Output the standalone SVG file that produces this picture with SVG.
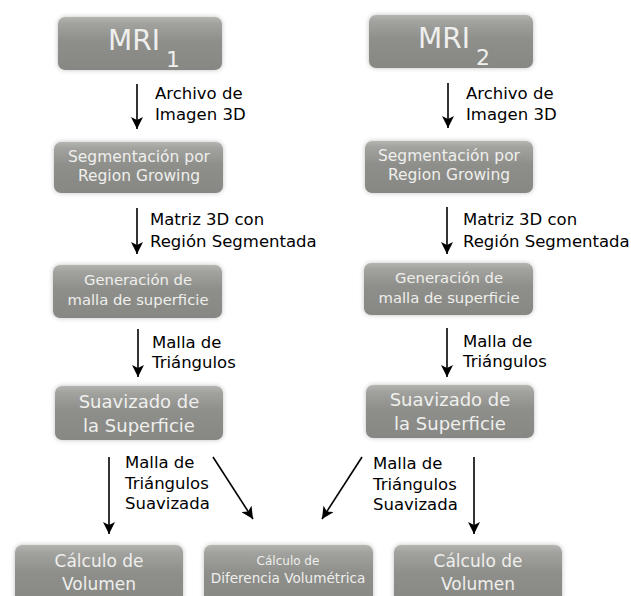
<svg xmlns="http://www.w3.org/2000/svg" width="631" height="596" viewBox="0 0 631 596">
<defs>
<linearGradient id="g" x1="0" y1="0" x2="0" y2="1">
<stop offset="0" stop-color="#b4b4b0"/>
<stop offset="0.12" stop-color="#a2a29e"/>
<stop offset="0.45" stop-color="#8e8f8a"/>
<stop offset="1" stop-color="#878883"/>
</linearGradient>
<filter id="sh" x="-10%" y="-20%" width="120%" height="140%">
<feGaussianBlur in="SourceAlpha" stdDeviation="2.5"/>
<feComponentTransfer><feFuncA type="linear" slope="0.25"/></feComponentTransfer>
<feMerge><feMergeNode/><feMergeNode in="SourceGraphic"/></feMerge>
</filter>
<marker id="ah" markerUnits="userSpaceOnUse" markerWidth="14" markerHeight="12" viewBox="0 0 14 12" refX="12" refY="6" orient="auto">
<path d="M0,0 L12,6 L0,12 L3,6 Z" fill="#000"/>
</marker>
<style>
.box{fill:url(#g);filter:url(#sh);}
.bt{font-family:"DejaVu Sans",sans-serif;fill:#efefed;text-anchor:middle;}
.lb{font-family:"DejaVu Sans",sans-serif;font-size:16.5px;fill:#000;}
.ar{stroke:#000;stroke-width:1.6;fill:none;marker-end:url(#ah);}
</style>
</defs>
<rect width="631" height="596" fill="#fff"/>
<g id="mri1"><rect class="box" x="58" y="17" width="164" height="53" rx="7"/><text class="bt" x="144" y="50" font-size="28">MRI<tspan font-size="22" dx="6" dy="17">1</tspan></text></g>
<g id="mri2"><rect class="box" x="369" y="15" width="164" height="53" rx="7"/><text class="bt" x="454" y="48" font-size="28">MRI<tspan font-size="22" dx="6" dy="17">2</tspan></text></g>
<g id="seg1"><rect class="box" x="54" y="142" width="169" height="51" rx="7"/><text class="bt" x="139" y="162" font-size="15.5">Segmentación por</text><text class="bt" x="139" y="181" font-size="15.5">Region Growing</text></g>
<g id="seg2"><rect class="box" x="365" y="141" width="168" height="52" rx="7"/><text class="bt" x="449" y="161" font-size="15.5">Segmentación por</text><text class="bt" x="449" y="180" font-size="15.5">Region Growing</text></g>
<g id="gen1"><rect class="box" x="53" y="265" width="169" height="53" rx="7"/><text class="bt" x="138" y="285" font-size="14.8">Generación de</text><text class="bt" x="138" y="305" font-size="14.8">malla de superficie</text></g>
<g id="gen2"><rect class="box" x="364" y="263" width="169" height="52" rx="7"/><text class="bt" x="449" y="283" font-size="14.8">Generación de</text><text class="bt" x="449" y="303" font-size="14.8">malla de superficie</text></g>
<g id="suav1"><rect class="box" x="55" y="386" width="168" height="54" rx="7"/><text class="bt" x="139" y="408" font-size="18">Suavizado de</text><text class="bt" x="139" y="432" font-size="18">la Superficie</text></g>
<g id="suav2"><rect class="box" x="366" y="385" width="168" height="53" rx="7"/><text class="bt" x="450" y="406" font-size="18">Suavizado de</text><text class="bt" x="450" y="430" font-size="18">la Superficie</text></g>
<g id="vol1"><rect class="box" x="15" y="545" width="168" height="62" rx="7"/><text class="bt" x="99" y="567" font-size="17">Cálculo de</text><text class="bt" x="99" y="590" font-size="17">Volumen</text></g>
<g id="dif"><rect class="box" x="204" y="545" width="169" height="62" rx="7"/><text class="bt" x="288" y="565" font-size="12">Cálculo de</text><text class="bt" x="288" y="583" font-size="13.6">Diferencia Volumétrica</text></g>
<g id="vol2"><rect class="box" x="394" y="545" width="168" height="62" rx="7"/><text class="bt" x="478" y="567" font-size="17">Cálculo de</text><text class="bt" x="478" y="590" font-size="17">Volumen</text></g>
<g id="connectors">
<line class="ar" x1="137" y1="84" x2="137" y2="129"/>
<line class="ar" x1="448" y1="83" x2="448" y2="128"/>
<line class="ar" x1="137" y1="208" x2="137" y2="254"/>
<line class="ar" x1="447" y1="207" x2="447" y2="254"/>
<line class="ar" x1="138" y1="329" x2="138" y2="377"/>
<line class="ar" x1="447" y1="328" x2="447" y2="377"/>
<line class="ar" x1="109" y1="457" x2="109" y2="534"/>
<line class="ar" x1="474" y1="457" x2="474" y2="534"/>
<line class="ar" x1="213" y1="457" x2="253" y2="519"/>
<line class="ar" x1="362" y1="457" x2="322" y2="519"/>
<text class="lb" x="155" y="99">Archivo de</text>
<text class="lb" x="155" y="120">Imagen 3D</text>
<text class="lb" x="466" y="99">Archivo de</text>
<text class="lb" x="466" y="120">Imagen 3D</text>
<text class="lb" x="150" y="225">Matriz 3D con</text>
<text class="lb" x="150" y="247">Región Segmentada</text>
<text class="lb" x="463" y="225">Matriz 3D con</text>
<text class="lb" x="463" y="247">Región Segmentada</text>
<text class="lb" x="152" y="348">Malla de</text>
<text class="lb" x="152" y="368">Triángulos</text>
<text class="lb" x="463" y="347">Malla de</text>
<text class="lb" x="463" y="367">Triángulos</text>
<text class="lb" x="125" y="468">Malla de</text>
<text class="lb" x="125" y="489">Triángulos</text>
<text class="lb" x="125" y="509">Suavizada</text>
<text class="lb" x="373" y="469">Malla de</text>
<text class="lb" x="373" y="490">Triángulos</text>
<text class="lb" x="373" y="510">Suavizada</text>
</g>
</svg>
